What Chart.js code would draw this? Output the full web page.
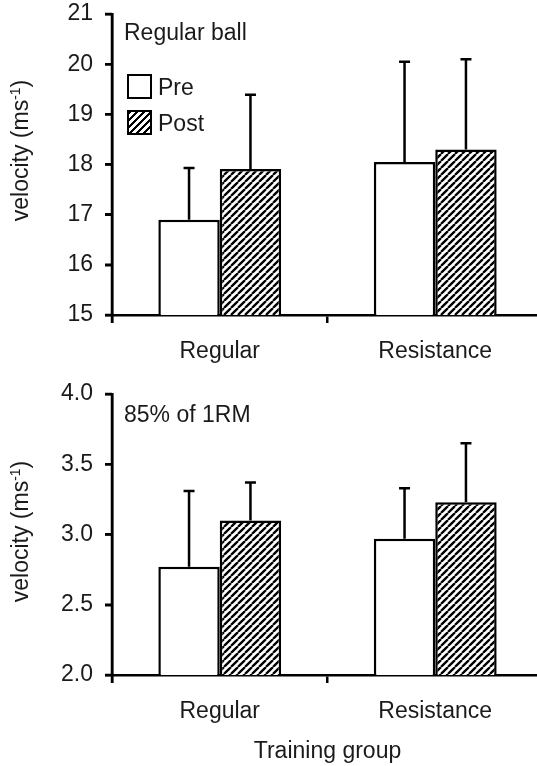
<!DOCTYPE html>
<html>
<head>
<meta charset="utf-8">
<script src="https://cdn.jsdelivr.net/npm/chart.js@4.4.1/dist/chart.umd.min.js"></script>
<style>
  html, body { margin: 0; padding: 0; background: #fff; overflow: hidden; width: 537px; height: 766px; }
  .panel { position: absolute; left: 0; }
  #top { top: 0; }
  #bottom { top: 380px; }
  .txt { position: absolute; font: 23px 'Liberation Sans', Arial, sans-serif; line-height: 23px; color: #1a1a1a; white-space: nowrap; }
  .ytitle { width: 200px; text-align: center; transform: rotate(-90deg); }
  .ytitle sup { font-size: 14px; line-height: 0; vertical-align: 8px; }
  .sw { position: absolute; box-sizing: border-box; width: 25.5px; height: 25.5px; border: 2.5px solid #000; background: #fff; }
  .sw.hatched { background: repeating-linear-gradient(135deg, #000 0 1.7px, #fff 1.7px 4.9px); }
</style>
</head>
<body>
<div class="panel" id="top"><canvas id="chartTop" width="560" height="370"></canvas></div>
<div class="panel" id="bottom"><canvas id="chartBottom" width="560" height="386"></canvas></div>

<div class="txt" style="left:124px; top:20.5px;">Regular ball</div>
<div class="sw" style="left:126.75px; top:73.75px;"></div>
<div class="txt" style="left:158px; top:75.5px;">Pre</div>
<div class="sw hatched" style="left:126.75px; top:109.75px;"></div>
<div class="txt" style="left:158px; top:111.5px;">Post</div>
<div class="txt ytitle" style="left:-80px; top:138.5px;">velocity (ms<sup>-1</sup>)</div>

<div class="txt" style="left:124px; top:402.5px;">85% of 1RM</div>
<div class="txt ytitle" style="left:-80px; top:519.5px;">velocity (ms<sup>-1</sup>)</div>
<div class="txt" style="left:227.5px; top:738.8px; width:200px; text-align:center;">Training group</div>
<script>
// Data
const groups = ["Regular", "Resistance"];
const seriesNames = ["Pre", "Post"];

// Regular ball velocity (m/s), mean and SD
const ballPre = [16.9, 18.05];
const ballPost = [17.91, 18.3];
const ballPreSD = [1.03, 2.0];
const ballPostSD = [1.48, 1.8];
const ballTicks = [15, 16, 17, 18, 19, 20, 21];

// 85% of 1RM velocity (m/s), mean and SD
const rmPre = [2.77, 2.97];
const rmPost = [3.10, 3.23];
const rmPreSD = [0.54, 0.36];
const rmPostSD = [0.27, 0.42];
const rmTicks = [2.0, 2.5, 3.0, 3.5, 4.0];

const ink = '#1a1a1a';
const family = "'Liberation Sans', Arial, sans-serif";
const font = { family: family, size: 23 };

// diagonal hatch fill for the "Post" bars
function hatch(ctx) {
    const s = 7;
    const tile = document.createElement('canvas');
    tile.width = s; tile.height = s;
    const g = tile.getContext('2d');
    g.fillStyle = '#fff';
    g.fillRect(0, 0, s, s);
    g.strokeStyle = '#000';
    g.lineWidth = 2.3;
    g.beginPath();
    for (let k = -1; k <= 1; k++) { g.moveTo(k * s, s); g.lineTo(k * s + s, 0); }
    g.stroke();
    return ctx.createPattern(tile, 'repeat');
}

// SD error bars (upper half only)
const errorBars = {
    id: 'errorBars',
    afterDatasetsDraw(chart) {
        const ctx = chart.ctx;
        const y = chart.scales.y;
        ctx.save();
        ctx.strokeStyle = '#000';
        ctx.lineWidth = 2.5;
        chart.data.datasets.forEach((ds, i) => {
            chart.getDatasetMeta(i).data.forEach((bar, j) => {
                const top = y.getPixelForValue(ds.data[j] + ds.sd[j]);
                ctx.beginPath();
                ctx.moveTo(bar.x, bar.y); ctx.lineTo(bar.x, top);
                ctx.moveTo(bar.x - 5.5, top); ctx.lineTo(bar.x + 5.5, top);
                ctx.stroke();
            });
        });
        ctx.restore();
    }
};

// value axis line and tick marks, stroked last so nothing covers them
const valueAxis = {
    id: 'valueAxis',
    afterDraw(chart) {
        const ctx = chart.ctx;
        const y = chart.scales.y;
        const x0 = chart.chartArea.left;
        ctx.save();
        ctx.strokeStyle = '#000';
        ctx.lineWidth = 2.5;
        ctx.beginPath();
        ctx.moveTo(x0, chart.chartArea.top - 1);
        ctx.lineTo(x0, chart.chartArea.bottom + 8);
        y.ticks.forEach(t => {
            const py = y.getPixelForValue(t.value);
            ctx.moveTo(x0 - 7, py);
            ctx.lineTo(x0, py);
        });
        ctx.stroke();
        ctx.restore();
    }
};

function makeChart(id, pre, post, preSD, postSD, tickVals, decimals, xHeight) {
    const ctx = document.getElementById(id).getContext('2d');
    return new Chart(ctx, {
        type: 'bar',
        data: {
            labels: groups,
            datasets: [{ label: seriesNames[0], data: pre, sd: preSD, backgroundColor: '#fff', borderColor: '#000', borderWidth: 2.5 },
                       { label: seriesNames[1], data: post, sd: postSD, backgroundColor: hatch(ctx), borderColor: '#000', borderWidth: 2.5 }]
        },
        options: {
            responsive: false,
            animation: false,
            devicePixelRatio: 1,
            layout: { padding: { top: 14, right: 17, left: 0, bottom: 0 } },
            datasets: { bar: { categoryPercentage: 0.57, barPercentage: 1.0 } },
            scales: {
                x: {
                    grid: { drawOnChartArea: false, tickLength: 8, color: '#000', lineWidth: 2.5 },
                    border: { display: true, color: '#000', width: 2.5 },
                    ticks: { color: ink, font: font, padding: 15 },
                    afterFit: s => { s.height = xHeight; s.paddingLeft = 0; s.paddingRight = 0; }
                },
                y: {
                    min: tickVals[0],
                    max: tickVals[tickVals.length - 1],
                    grid: { drawOnChartArea: false, tickLength: 7, color: '#000', lineWidth: 2.5 },
                    border: { display: true, color: '#000', width: 2.5 },
                    ticks: { color: ink, font: font, padding: 12, stepSize: tickVals[1] - tickVals[0],
                             callback: v => Number(v).toFixed(decimals) },
                    afterFit: s => { s.width = 112; s.paddingTop = 0; s.paddingBottom = 0; }
                }
            },
            plugins: { legend: { display: false }, tooltip: { enabled: false } }
        },
        plugins: [errorBars, valueAxis]
    });
}

makeChart('chartTop', ballPre, ballPost, ballPreSD, ballPostSD, ballTicks, 0, 55);
makeChart('chartBottom', rmPre, rmPost, rmPreSD, rmPostSD, rmTicks, 1, 91);
</script>
</body>
</html>
